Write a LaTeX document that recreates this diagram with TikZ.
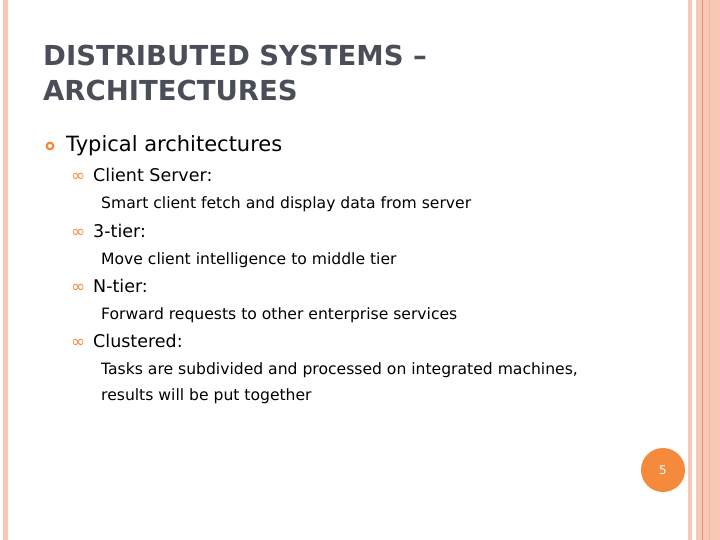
\documentclass[tikz,border=0pt]{standalone}
\usepackage{fontspec}
\setmainfont{DejaVu Sans}
\newfontfamily\symf{DejaVu Sans}
\definecolor{salmon}{HTML}{F9C8B4}
\definecolor{dsalmon}{HTML}{E8967A}
\definecolor{orng}{HTML}{F58A3C}
\definecolor{titleg}{HTML}{4A4E58}
\begin{document}
\begin{tikzpicture}[x=1pt,y=-1pt,
  t1/.style={anchor=base west,inner sep=0,font=\fontsize{21}{24}\selectfont},
  t2/.style={anchor=base west,inner sep=0,font=\fontsize{17.5}{20}\selectfont},
  bl/.style={anchor=base west,inner sep=0,text=orng,font=\symf\fontsize{17}{17}\selectfont},
  t3/.style={anchor=base west,inner sep=0,font=\fontsize{15.6}{20}\selectfont},
  tt/.style={anchor=base west,inner sep=0,text=titleg,font=\bfseries\fontsize{27.5}{30}\selectfont}]
\useasboundingbox (0,0) rectangle (720,540);
\fill[white] (0,0) rectangle (720,540);
\fill[salmon] (3,0) rectangle (8,540);
\fill[salmon] (688,0) rectangle (692,540);
\fill[salmon] (696,0) rectangle (720,540);
\draw[dsalmon,line width=1pt] (702.5,0) -- (702.5,540);
\draw[dsalmon!70,line width=0.6pt] (709,0) -- (709,540);
\node[tt] (title1) at (43,66) {DISTRIBUTED SYSTEMS –};
\node[tt] (title2) at (43,101) {ARCHITECTURES};
\draw[orng,line width=2.2pt] (50,146) circle (3.3);
\node[t1] (l1) at (66,152) {Typical architectures};
\node[bl] (b1) at (71,182) {∞};
\node[t2] (l2) at (93,182) {Client Server:};
\node[t3] (l3) at (101,209) {Smart client fetch and display data from server};
\node[bl] (b2) at (71,237) {∞};
\node[t2] (l4) at (93,237) {3-tier:};
\node[t3] (l5) at (101,264) {Move client intelligence to middle tier};
\node[bl] (b3) at (71,292) {∞};
\node[t2] (l6) at (93,292) {N-tier:};
\node[t3] (l7) at (101,319) {Forward requests to other enterprise services};
\node[bl] (b4) at (71,347) {∞};
\node[t2] (l8) at (93,347) {Clustered:};
\node[t3] (l9) at (101,374) {Tasks are subdivided and processed on integrated machines,};
\node[t3] (l10) at (101,400) {results will be put together};
\node[circle,fill=orng,minimum size=44pt,inner sep=0,text=white,font=\fontsize{12}{12}\selectfont] (pg) at (663,470) {5};
\end{tikzpicture}
\end{document}
